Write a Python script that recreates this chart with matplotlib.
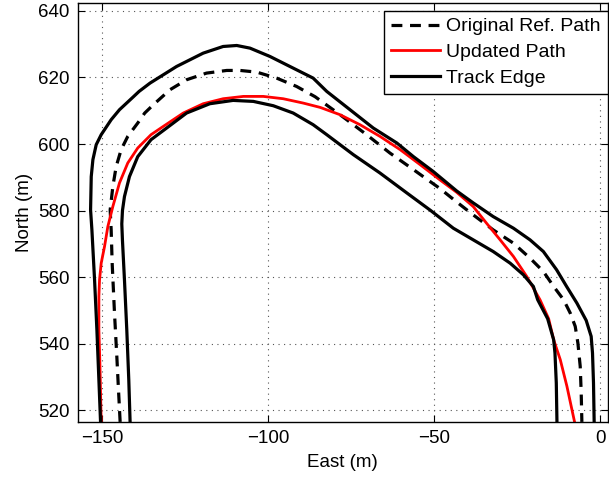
import matplotlib
matplotlib.use("Agg")
import matplotlib.pyplot as plt

plt.rcParams["font.family"] = ["Liberation Sans", "DejaVu Sans"]

# outer track edge (east, north)
outer_e = [-150.4, -150.9, -151.5, -152.2, -153.0, -153.4, -153.2, -152.7, -151.7,
           -150.2, -147.2, -144.7, -140.5, -138.8, -135.5, -127.5, -119.5, -113.5,
           -109.4, -105.4, -99.4, -94.4, -90.4, -86.4, -82.3, -75.3, -68.3, -61.2,
           -56.2, -50.2, -43.2, -38.2, -32.2, -26.1, -21.1, -17.1, -13.1, -10.1,
           -7.0, -4.2, -2.7, -2.3, -2.0, -1.8]
outer_n = [516.5, 529.2, 544.2, 559.2, 574.2, 580.2, 590.2, 595.3, 599.8,
           602.8, 607.3, 610.3, 614.2, 615.8, 618.3, 623.3, 627.3, 629.3,
           629.6, 628.8, 626.3, 623.8, 621.8, 619.8, 615.8, 610.3, 604.8, 600.3,
           596.2, 591.7, 585.9, 582.3, 578.2, 574.7, 571.2, 567.7, 562.2, 557.2,
           552.2, 547.0, 542.2, 537.2, 528.2, 516.5]

# inner track edge
inner_e = [-141.5, -141.9, -142.5, -143.2, -143.8, -144.0, -143.8, -143.2, -141.7,
           -139.2, -135.2, -130.5, -124.5, -117.5, -110.5, -104.4, -98.4, -92.4,
           -86.4, -82.3, -74.3, -66.3, -58.2, -51.0, -44.2, -38.2, -32.2, -27.1,
           -23.1, -20.1, -18.8, -15.8, -14.0, -13.6, -13.2, -13.0]
inner_n = [516.5, 529.2, 544.2, 559.2, 571.0, 576.0, 580.0, 584.2, 590.2,
           596.2, 601.3, 604.8, 609.3, 612.1, 613.1, 612.8, 611.5, 609.3,
           605.8, 602.8, 596.8, 591.3, 585.3, 580.0, 574.7, 571.2, 567.7, 564.2,
           560.7, 557.2, 553.2, 547.5, 541.2, 537.2, 528.2, 516.5]

# original reference path
ref_e = [-144.5, -145.0, -145.5, -146.2, -146.9, -147.2, -147.5, -146.7, -145.7,
         -144.2, -142.2, -139.2, -137.1, -134.5, -129.5, -124.5, -118.5, -112.4,
         -108.4, -103.4, -97.4, -91.4, -85.8, -78.3, -70.3, -63.3, -56.2, -48.2,
         -43.2, -38.2, -32.2, -26.1, -21.1, -17.1, -14.0, -11.0, -9.0, -7.5,
         -6.7, -6.0, -5.7, -5.5]
ref_n = [516.5, 526.2, 536.2, 549.2, 564.2, 574.2, 580.2, 587.2, 593.2,
         598.3, 602.3, 606.3, 609.3, 611.8, 616.3, 619.3, 621.3, 622.1,
         622.1, 621.6, 619.8, 617.3, 614.2, 608.8, 602.8, 597.3, 592.3, 586.6,
         582.6, 578.7, 574.2, 570.2, 565.7, 561.7, 557.2, 553.2, 549.2, 545.2,
         540.2, 533.2, 525.2, 516.5]

# updated path
upd_e = [-150.2, -150.6, -150.9, -150.9, -150.7, -150.2, -149.2, -148.2, -146.7,
         -144.7, -142.2, -139.2, -135.2, -131.5, -125.5, -119.5, -113.5, -107.4,
         -101.4, -95.4, -89.4, -84.3, -78.3, -72.3, -66.3, -60.2, -54.2, -48.2,
         -43.2, -38.2, -34.2, -30.1, -26.1, -22.1, -18.1, -15.5, -14.0, -12.0,
         -10.0, -7.7]
upd_n = [516.5, 534.2, 544.2, 554.2, 559.2, 564.2, 569.2, 575.2, 581.2,
         588.3, 594.3, 598.8, 602.8, 605.3, 609.3, 612.1, 613.6, 614.3,
         614.3, 613.6, 612.3, 611.0, 608.8, 605.8, 602.3, 598.3, 593.8, 589.2,
         585.5, 581.2, 576.2, 571.2, 566.2, 560.2, 553.2, 547.5, 541.2, 535.2,
         527.2, 516.5]

fig = plt.figure(figsize=(6.09, 4.8), dpi=100)
ax = fig.add_axes([0.128, 0.121, 0.870, 0.873])

ax.plot(ref_e, ref_n, color="black", lw=2.3, dashes=(3.4, 2.4), label="Original Ref. Path")
ax.plot(upd_e, upd_n, color="red", lw=2.0, label="Updated Path")
ax.plot(outer_e, outer_n, color="black", lw=2.3, label="Track Edge")
ax.plot(inner_e, inner_n, color="black", lw=2.3)

ax.set_xlim(-157.2, 2.3)
ax.set_ylim(516.5, 642.4)
ax.set_xticks([-150, -100, -50, 0])
ax.set_yticks([520, 540, 560, 580, 600, 620, 640])
ax.tick_params(direction="in", top=True, right=True, labelsize=13.5, length=5, pad=6)
ax.grid(True, linestyle=(0, (1, 4)), color="#555555", lw=0.8)
for s in ax.spines.values():
    s.set_linewidth(1.0)

ax.set_xlabel("East (m)", fontsize=13.5, labelpad=5)
ax.set_ylabel("North (m)", fontsize=13.5, labelpad=4)

leg = ax.legend(loc="upper right", bbox_to_anchor=(607.7 / 609, 1 - 11 / 480),
                bbox_transform=fig.transFigure, fontsize=14, fancybox=False,
                framealpha=1, edgecolor="black", handlelength=2.5, borderpad=0.35,
                labelspacing=0.42, borderaxespad=0, handletextpad=0.35)
leg.get_frame().set_linewidth(1.0)

fig.savefig("out.png", dpi=100)
